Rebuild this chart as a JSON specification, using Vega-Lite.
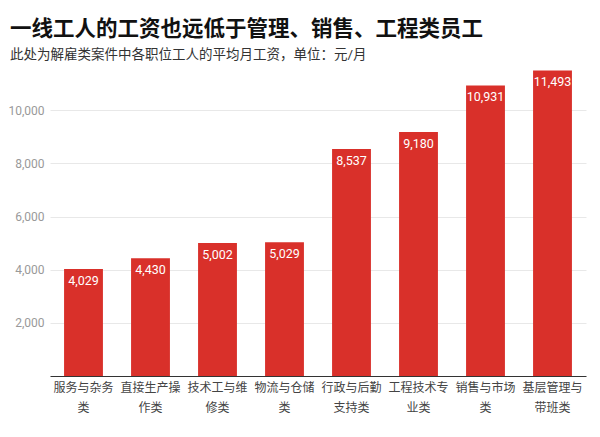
{
  "$schema": "https://vega.github.io/schema/vega-lite/v6.json",
  "autosize": "none",
  "width": 536,
  "height": 319,
  "padding": {"left": 50, "top": 57, "right": 14, "bottom": 61},
  "background": "white",
  "title": {
    "text": "一线工人的工资也远低于管理、销售、工程类员工",
    "subtitle": "此处为解雇类案件中各职位工人的平均月工资，单位：元/月",
    "anchor": "start",
    "frame": "group",
    "dx": -40,
    "offset": -4,
    "font": "Roboto, Noto Sans CJK SC",
    "fontSize": 21.5,
    "fontWeight": "bold",
    "color": "#111111",
    "subtitleFont": "Roboto, Noto Sans CJK SC",
    "subtitleFontSize": 13.5,
    "subtitleColor": "#333333",
    "subtitlePadding": 7
  },
  "data": {
    "values": [
      {"job": "服务与杂务类", "wage": 4029},
      {"job": "直接生产操作类", "wage": 4430},
      {"job": "技术工与维修类", "wage": 5002},
      {"job": "物流与仓储类", "wage": 5029},
      {"job": "行政与后勤支持类", "wage": 8537},
      {"job": "工程技术专业类", "wage": 9180},
      {"job": "销售与市场类", "wage": 10931},
      {"job": "基层管理与带班类", "wage": 11493}
    ]
  },
  "encoding": {
    "x": {
      "field": "job",
      "type": "nominal",
      "sort": null,
      "title": null,
      "scale": {"paddingInner": 0.42, "paddingOuter": 0.21},
      "axis": {
        "labelAngle": 0,
        "labelFont": "Noto Sans CJK SC",
        "labelFontSize": 12,
        "labelColor": "#444444",
        "labelPadding": 6,
        "labelLineHeight": 20,
        "labelExpr": "[substring(datum.label, 0, 5), substring(datum.label, 5)]",
        "ticks": false,
        "domainColor": "#333333",
        "domainWidth": 1.2
      }
    },
    "y": {
      "field": "wage",
      "type": "quantitative",
      "title": null,
      "scale": {"domain": [0, 12000], "nice": false},
      "axis": {
        "values": [2000, 4000, 6000, 8000, 10000],
        "format": ",.0f",
        "labelFont": "Roboto",
        "labelFontSize": 12,
        "labelColor": "#999999",
        "labelPadding": 6,
        "ticks": false,
        "domain": false,
        "gridColor": "#e8e8e8"
      }
    }
  },
  "layer": [
    {"mark": {"type": "bar", "color": "#d9302a"}},
    {
      "mark": {
        "type": "text",
        "baseline": "top",
        "dy": 6,
        "color": "white",
        "font": "Roboto",
        "fontSize": 12.5
      },
      "encoding": {"text": {"field": "wage", "type": "quantitative", "format": ",.0f"}}
    }
  ],
  "config": {"view": {"stroke": null}}
}
